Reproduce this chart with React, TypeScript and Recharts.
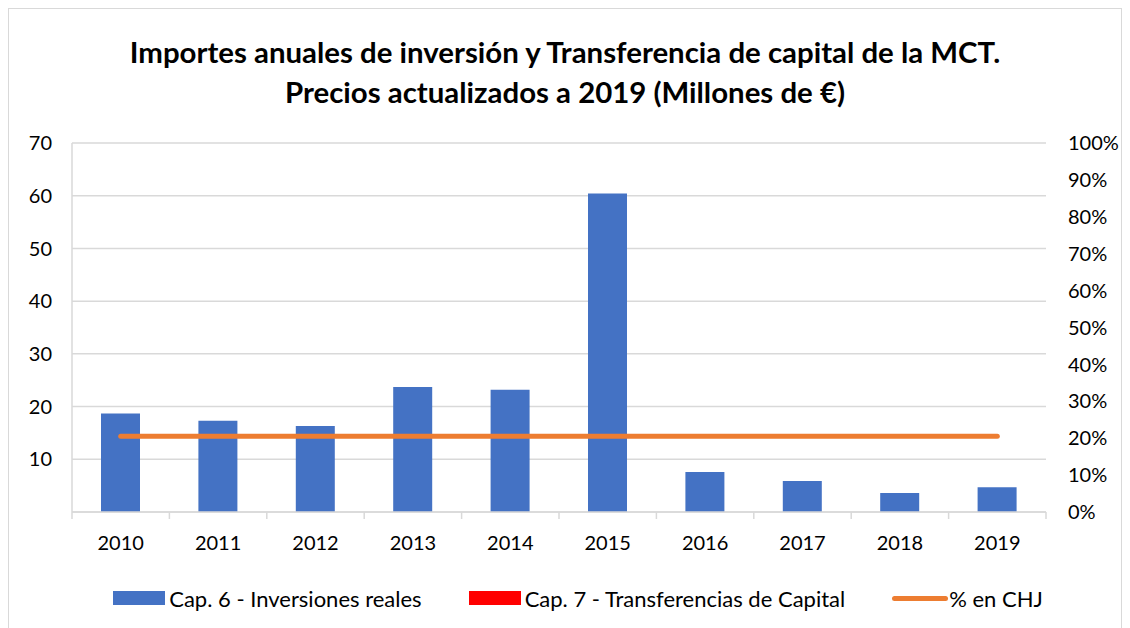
import { ComposedChart, Bar, Line, XAxis, YAxis, CartesianGrid, Legend } from "recharts"

const years = ["2010", "2011", "2012", "2013", "2014", "2015", "2016", "2017", "2018", "2019"]
const cap6 = [18.7, 17.3, 16.3, 23.7, 23.2, 60.4, 7.6, 5.9, 3.6, 4.7]
const cap7 = [0, 0, 0, 0, 0, 0, 0, 0, 0, 0]
const pctCHJ = [0.205, 0.205, 0.205, 0.205, 0.205, 0.205, 0.205, 0.205, 0.205, 0.205]
const leftTicks = [0, 10, 20, 30, 40, 50, 60, 70]
const rightTicks = [0, 0.1, 0.2, 0.3, 0.4, 0.5, 0.6, 0.7, 0.8, 0.9, 1]

const FONT = "Lato, 'Open Sans', sans-serif"
const GRID = "#d9d9d9"
const W = 1112
const H = 612
const LEFT_W = 63
const RIGHT_W = 75
const BAND = (W - LEFT_W - RIGHT_W) / years.length

const data = years.map((y, i) => ({ year: y, cap6: cap6[i], cap7: cap7[i], pct: pctCHJ[i] }))

function YearTick(props: any) {
  const { x, y, payload, index } = props
  const half = BAND / 2
  return (
    <g>
      <line x1={x - half} x2={x - half} y1={y} y2={y + 7} stroke={GRID} strokeWidth={1.5} />
      {index === years.length - 1 && (
        <line x1={x + half} x2={x + half} y1={y} y2={y + 7} stroke={GRID} strokeWidth={1.5} />
      )}
      <text x={x} y={y + 38} textAnchor="middle" fill="#000" fontSize={20} fontFamily={FONT}>
        {payload.value}
      </text>
    </g>
  )
}

function LegendBox() {
  const item = { display: "flex", alignItems: "center", fontSize: 22, color: "#000" }
  return (
    <div style={{ height: 30, display: "flex", justifyContent: "center", alignItems: "center", gap: 47, paddingLeft: 26, fontFamily: FONT }}>
      <div style={item}>
        <span style={{ width: 52, height: 14, background: "#4472C4", marginRight: 4 }} />
        Cap. 6 - Inversiones reales
      </div>
      <div style={item}>
        <span style={{ width: 52, height: 14, background: "#FF0000", marginRight: 4 }} />
        Cap. 7 - Transferencias de Capital
      </div>
      <div style={item}>
        <span style={{ width: 56, height: 5, borderRadius: 3, background: "#ED7D31", marginRight: 1 }} />
        % en CHJ
      </div>
    </div>
  )
}

export default function App() {
  return (
    <div style={{ position: "relative", width: 1114, height: 640, border: `1px solid ${GRID}`, boxSizing: "border-box", background: "#fff" }}>
      <div style={{ position: "absolute", top: 23, left: 0, width: W, textAlign: "center", fontFamily: FONT, fontWeight: 700, fontSize: 29.4, lineHeight: "40px", color: "#000" }}>
        Importes anuales de inversión y Transferencia de capital de la MCT.
        <br />
        Precios actualizados a 2019 (Millones de €)
      </div>
      <ComposedChart width={W} height={H} data={data} margin={{ top: 134, right: 0, left: 0, bottom: 8 }}>
        <CartesianGrid horizontal vertical={false} stroke={GRID} strokeWidth={1.5} yAxisId="left" />
        <XAxis
          dataKey="year"
          height={71}
          tickSize={0}
          tickMargin={0}
          tickLine={false}
          axisLine={{ stroke: GRID, strokeWidth: 1.5 }}
          tick={<YearTick />}
          interval={0}
        />
        <YAxis
          yAxisId="left"
          width={LEFT_W}
          domain={[0, 70]}
          ticks={leftTicks}
          tickLine={false}
          axisLine={{ stroke: GRID, strokeWidth: 1.5 }}
          tickFormatter={(v) => (v === 0 ? "" : String(v))}
          tick={{ fill: "#000", fontSize: 20, fontFamily: FONT, dx: -12 }}
        />
        <YAxis
          yAxisId="right"
          orientation="right"
          width={RIGHT_W}
          domain={[0, 1]}
          ticks={rightTicks}
          tickLine={false}
          axisLine={false}
          tickFormatter={(v) => `${Math.round(v * 100)}%`}
          tick={{ fill: "#000", fontSize: 20, fontFamily: FONT, dx: 14 }}
        />
        <Legend verticalAlign="bottom" content={<LegendBox />} />
        <Bar yAxisId="left" dataKey="cap6" stackId="a" fill="#4472C4" barSize={39} isAnimationActive={false} />
        <Bar yAxisId="left" dataKey="cap7" stackId="a" fill="#FF0000" barSize={39} isAnimationActive={false} />
        <Line
          yAxisId="right"
          dataKey="pct"
          stroke="#ED7D31"
          strokeWidth={5}
          strokeLinecap="round"
          dot={false}
          activeDot={false}
          isAnimationActive={false}
        />
      </ComposedChart>
    </div>
  )
}
